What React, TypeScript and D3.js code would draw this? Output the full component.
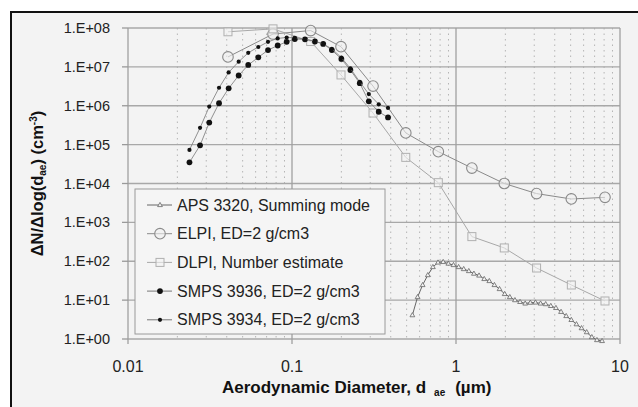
import React from "react";
import * as d3 from "d3";

// axis ticks
const xTicks = [0.01, 0.1, 1, 10];
const xTickLabels = ["0.01", "0.1", "1", "10"];
const yTicks = [1, 1e1, 1e2, 1e3, 1e4, 1e5, 1e6, 1e7, 1e8];
const yTickLabels = ["1.E+00", "1.E+01", "1.E+02", "1.E+03", "1.E+04", "1.E+05", "1.E+06", "1.E+07", "1.E+08"];

// SMPS channels (um)
const smpsD = [0.0237, 0.0275, 0.0313, 0.0359, 0.0411, 0.0473, 0.0541, 0.0623, 0.0714, 0.0818, 0.0928,
  0.104, 0.120, 0.138, 0.155, 0.175, 0.200, 0.227, 0.259, 0.294, 0.338, 0.385];
const smps3936 = [3.5e4, 9.6e4, 3.7e5, 1.16e6, 2.8e6, 6.0e6, 1.12e7, 1.76e7, 2.7e7, 3.55e7, 4.4e7,
  5.2e7, 5.1e7, 4.5e7, 3.9e7, 2.7e7, 1.6e7, 8.3e6, 3.8e6, 1.3e6, 7.0e5, 5.0e5];
const smps3934 = [7.3e4, 2.7e5, 9.5e5, 2.9e6, 7.2e6, 1.36e7, 2.3e7, 3.25e7, 4.4e7, 5.4e7, 5.7e7,
  5.6e7, 5.2e7, 4.6e7, 3.9e7, 2.9e7, 1.74e7, 9.1e6, 4.1e6, 2.0e6, 1.09e6, 8.8e5];

// ELPI / DLPI stages (um)
const impD = [0.0407, 0.0766, 0.13, 0.199, 0.312, 0.494, 0.78, 1.25, 1.97, 3.1, 5.05, 8.1];
const elpiN = [1.8e7, 7.0e7, 8.6e7, 3.3e7, 3.2e6, 2.0e5, 6.6e4, 2.5e4, 1.0e4, 5.5e3, 4.0e3, 4.4e3];
const dlpiN = [8.0e7, 9.5e7, 4.5e7, 6.2e6, 6.5e5, 4.7e4, 1.05e4, 4.3e2, 2.2e2, 67, 24.5, 9.5];

// APS channels (um)
const apsD = [0.542, 0.583, 0.626, 0.673, 0.723, 0.777, 0.835, 0.898, 0.965, 1.037, 1.114, 1.197, 1.286,
  1.382, 1.486, 1.596, 1.715, 1.843, 1.981, 2.129, 2.288, 2.458, 2.642, 2.839, 3.051, 3.278, 3.523,
  3.786, 4.068, 4.371, 4.698, 5.048, 5.425, 5.829, 6.264, 6.732, 7.234, 7.774];
const apsN = [4.1, 12, 24.5, 44, 71, 93, 96, 87, 80, 71, 63, 56, 48, 43, 35, 31, 24.5, 19.3, 14.4, 12,
  10, 9.0, 8.2, 8.6, 8.7, 8.2, 7.9, 7.1, 6.3, 5.0, 3.9, 3.1, 2.4, 1.9, 1.5, 1.12, 0.94, 0.89];

const legendNames = [
  "APS 3320, Summing mode",
  "ELPI, ED=2 g/cm3",
  "DLPI, Number estimate",
  "SMPS 3936, ED=2 g/cm3",
  "SMPS 3934, ED=2 g/cm3",
];

const W = 638;
const H = 407;
const font = "'Liberation Sans', Arial, sans-serif";

function Marker({ kind, cx, cy }: { kind: string; cx: number; cy: number }) {
  if (kind === "tri")
    return <path d={`M${cx},${cy - 2.6}L${cx + 2.4},${cy + 1.6}L${cx - 2.4},${cy + 1.6}Z`} fill="#f2f2f2" stroke="#666" strokeWidth={0.8} />;
  if (kind === "circ")
    return <circle cx={cx} cy={cy} r={5.3} fill="#f0f0f0" fillOpacity={0.6} stroke="#8a8a8a" strokeWidth={1.1} />;
  if (kind === "sq")
    return <rect x={cx - 4} y={cy - 4} width={8} height={8} fill="#f4f4f4" fillOpacity={0.6} stroke="#b0b0b0" strokeWidth={1} />;
  if (kind === "big") return <circle cx={cx} cy={cy} r={2.9} fill="#111" />;
  return <circle cx={cx} cy={cy} r={2.1} fill="#111" />;
}

export default function App() {
  const x = d3.scaleLog().domain([0.01, 10]).range([128, 620]);
  const y = d3.scaleLog().domain([1, 1e8]).range([339, 28]);

  const minorX = x.ticks().filter((t) => !xTicks.some((m) => Math.abs(m - t) / m < 1e-6));

  const line = (ds: number[], vs: number[]) =>
    d3.line<number>().x((_, i) => x(ds[i])).y((v) => y(v))(vs) || "";

  const series = [
    { d: apsD, v: apsN, kind: "tri", stroke: "#666", sw: 1 },
    { d: impD, v: elpiN, kind: "circ", stroke: "#8a8a8a", sw: 1 },
    { d: impD, v: dlpiN, kind: "sq", stroke: "#a8a8a8", sw: 1 },
    { d: smpsD, v: smps3936, kind: "big", stroke: "#777", sw: 0.8 },
    { d: smpsD, v: smps3934, kind: "small", stroke: "#777", sw: 0.8 },
  ];

  return (
    <svg width={W} height={H} style={{ position: "fixed", left: 0, top: 0 }} fontFamily={font}>
      <rect x={0} y={0} width={W} height={H} fill="#fff" />
      <rect x={11} y={12} width={W + 10} height={H + 10} fill="#f3f3f3" stroke="#111" strokeWidth={2} />

      {/* minor vertical grid */}
      {minorX.map((t, i) => (
        <line key={"mx" + i} x1={x(t)} x2={x(t)} y1={y(1e8)} y2={y(1)} stroke="#b5b5b5" strokeWidth={1} strokeDasharray="1.5,4" />
      ))}
      {/* major grid */}
      {yTicks.map((t, i) => (
        <line key={"gy" + i} x1={x(0.01)} x2={x(10)} y1={y(t)} y2={y(t)} stroke="#a8a8a8" strokeWidth={1.3} />
      ))}
      {xTicks.map((t, i) => (
        <line key={"gx" + i} x1={x(t)} x2={x(t)} y1={y(1e8)} y2={y(1) + 5} stroke="#a0a0a0" strokeWidth={1.3} />
      ))}
      {/* y ticks */}
      {yTicks.map((t, i) => (
        <g key={"yt" + i}>
          <line x1={x(0.01) - 6} x2={x(0.01)} y1={y(t)} y2={y(t)} stroke="#999" strokeWidth={1.3} />
          <text x={110} y={y(t)} dy="0.35em" textAnchor="end" fontSize={14.5} fill="#222">
            {yTickLabels[i]}
          </text>
        </g>
      ))}
      {xTicks.map((t, i) => (
        <text key={"xt" + i} x={x(t)} y={372} textAnchor="middle" fontSize={16} fill="#222">
          {xTickLabels[i]}
        </text>
      ))}

      {/* series */}
      {series.map((s, si) => (
        <g key={"s" + si}>
          <path d={line(s.d, s.v)} fill="none" stroke={s.stroke} strokeWidth={s.sw} />
          {s.v.map((v, i) => (
            <Marker key={i} kind={s.kind} cx={x(s.d[i])} cy={y(v)} />
          ))}
        </g>
      ))}

      {/* legend */}
      <rect x={135} y={189} width={250} height={145} fill="#f5f5f5" stroke="#9a9a9a" strokeWidth={1} />
      {legendNames.map((n, i) => {
        const ly = 205 + i * 28.7;
        return (
          <g key={"lg" + i}>
            <line x1={147} x2={172} y1={ly} y2={ly} stroke={series[i].stroke} strokeWidth={1} />
            <Marker kind={series[i].kind} cx={160} cy={ly} />
            <text x={177} y={ly} dy="0.35em" fontSize={16} fill="#222">
              {n}
            </text>
          </g>
        );
      })}

      {/* axis titles */}
      <text x={222} y={393} fontSize={17} fontWeight="bold" fill="#111">
        Aerodynamic Diameter, d
        <tspan fontSize={10} dx={8} dy={3}>ae</tspan>
        <tspan dx={10} dy={-3}>(µm)</tspan>
      </text>
      <text transform={`translate(43,${(y(1) + y(1e8)) / 2}) rotate(-90)`} textAnchor="middle" fontSize={16.5} fontWeight="bold" fill="#111">
        ΔN/Δlog(d
        <tspan fontSize={10} dy={3}>ae</tspan>
        <tspan dy={-3}>)  (cm</tspan>
        <tspan fontSize={10} dy={-6}>-3</tspan>
        <tspan dy={6}>)</tspan>
      </text>
    </svg>
  );
}
